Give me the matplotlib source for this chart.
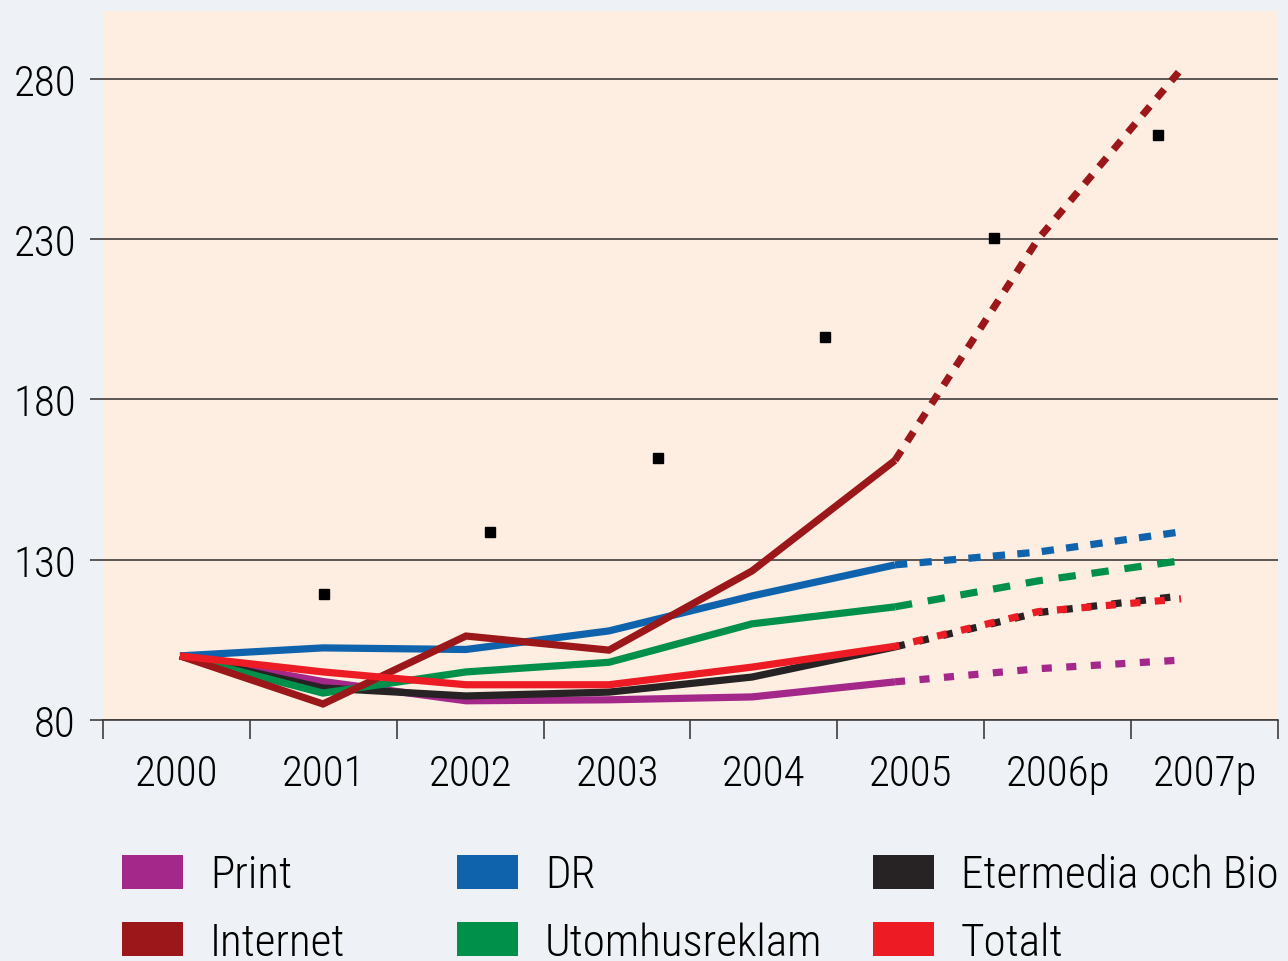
import matplotlib
matplotlib.use("Agg")
import matplotlib.pyplot as plt
from matplotlib.patches import Patch

plt.rcParams['font.family'] = ['Roboto Condensed', 'Archivo Narrow', 'Barlow Semi Condensed', 'DejaVu Sans']
plt.rcParams['font.weight'] = 'light'

years = ['2000', '2001', '2002', '2003', '2004', '2005', '2006p', '2007p']

print_idx = [100, 92, 86, 86.3, 87.2, 91.9, 96, 98.7]
internet = [100, 85, 106.2, 101.8, 126.5, 161, 230, 283]
dr = [100, 102.5, 102, 107.8, 118.7, 128.4, 132.4, 138.7]
utomhus = [100, 88.4, 95, 98, 110, 115.3, 123.4, 129.7]
etermedia = [100, 90, 87.5, 88.7, 93.4, 102.8, 113.5, 118.7]
totalt = [100, 95, 91, 91, 96.5, 103, 113.8, 117.8]

marker_x = [1.01, 2.17, 3.34, 4.51, 5.69, 6.84]
marker_y = [119.3, 138.7, 161.7, 199.5, 230.4, 262.5]

series = [
    ('Print', print_idx, '#a4288a', (0, (1.4, 2.0))),
    ('Etermedia och Bio', etermedia, '#272324', (0, (1.4, 2.0))),
    ('Utomhusreklam', utomhus, '#00904a', (0, (2.4, 2.2))),
    ('DR', dr, '#0f62ac', (0, (1.7, 1.7))),
    ('Internet', internet, '#9b1719', (0, (1.6, 1.5))),
    ('Totalt', totalt, '#ed1c24', (0.8, (1.4, 2.0))),
]
colors = {name: c for name, _, c, _ in series}

fig = plt.figure(figsize=(12.88, 9.62), dpi=100, facecolor='#eef2f6')
ax = fig.add_axes([103 / 1288, 1 - 721 / 962, 1175 / 1288, 709 / 962])
ax.set_facecolor('#feeee2')

x = list(range(len(years)))
lw = 5.2
for name, vals, c, ls in series:
    ax.plot(x[:6], vals[:6], color=c, lw=lw, solid_capstyle='butt', solid_joinstyle='miter', zorder=3)
    ax.plot(x[5:], vals[5:], color=c, lw=lw, linestyle=ls, dash_capstyle='butt', zorder=3)

ax.plot(marker_x, marker_y, 's', color='black', markersize=6.5, zorder=4)

ax.set_xlim(-0.538, 7.678)
ax.set_ylim(80, 301.2)
ax.set_xticks([])
ax.set_yticks([80, 130, 180, 230, 280])
ax.tick_params(axis='y', length=9.5, width=1.2, color='#403c3c', pad=10, labelsize=31)
ax.grid(axis='y', color='#403c3c', lw=1.2)
ax.set_axisbelow(True)
for s in ['left', 'right', 'top']:
    ax.spines[s].set_visible(False)
ax.spines['bottom'].set_color('#403c3c')
ax.spines['bottom'].set_linewidth(1.2)

# category axis for the year labels
cat = ax.twiny()
cat.set_xlim(-0.5, 7.5)
cat.xaxis.set_ticks_position('bottom')
cat.xaxis.set_label_position('bottom')
cat.set_xticks([i - 0.5 for i in range(len(years) + 1)])
cat.set_xticklabels([])
cat.set_xticks(x, minor=True)
cat.set_xticklabels(years, minor=True)
cat.tick_params(axis='x', which='major', length=14, width=1.2, color='#403c3c')
cat.tick_params(axis='x', which='minor', length=0, pad=24, labelsize=31)
for s in cat.spines.values():
    s.set_visible(False)

legend_cols = [
    (122, ['Print', 'Internet']),
    (457, ['DR', 'Utomhusreklam']),
    (873, ['Etermedia och Bio', 'Totalt']),
]
for xpos, names in legend_cols:
    handles = [Patch(facecolor=colors[n], edgecolor='none') for n in names]
    fig.legend(handles, names, loc='upper left', bbox_to_anchor=(xpos / 1288, 1 - 855 / 962),
               frameon=False, fontsize=32.5, handlelength=1.35, handleheight=0.8,
               handletextpad=0.6, labelspacing=0.55, borderpad=0, borderaxespad=0)

fig.savefig('out.png', dpi=100, facecolor=fig.get_facecolor())
